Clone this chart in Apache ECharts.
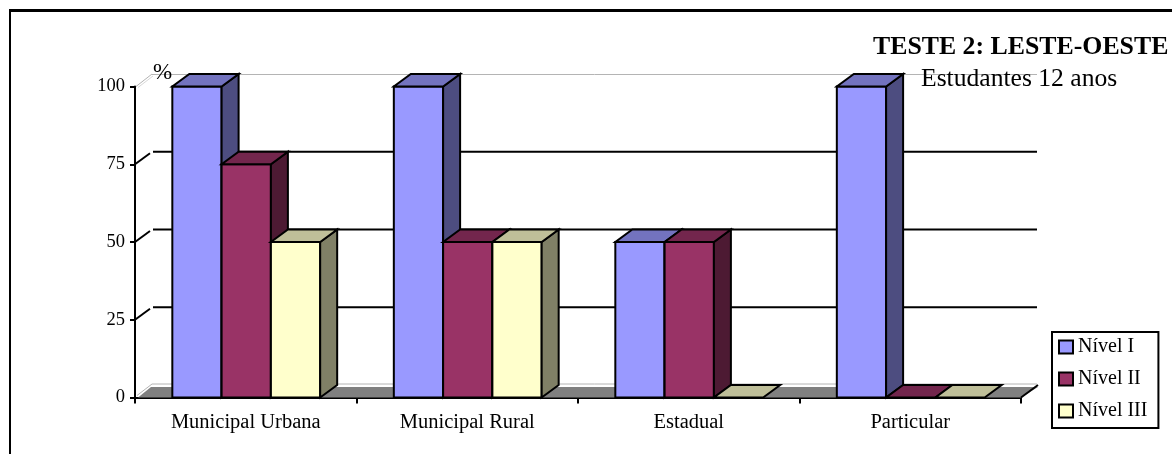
<!DOCTYPE html>
<html>
<head>
<meta charset="utf-8">
<style>html,body{margin:0;padding:0;background:#fff}#chart{width:1172px;height:454px}</style>
<script src="https://cdn.jsdelivr.net/npm/echarts@6/dist/echarts.min.js"></script>
</head>
<body>
<div id="chart"></div>
<script>
const categories = ['Municipal Urbana', 'Municipal Rural', 'Estadual', 'Particular'];
const nivelI = [100, 100, 50, 100];
const nivelII = [75, 50, 50, 0];
const nivelIII = [50, 50, 0, 0];
const yTicks = [0, 25, 50, 75, 100];
const seriesNames = ['Nível I', 'Nível II', 'Nível III'];

const faceColors = [
  { front: '#9999FF', top: '#7373BF', side: '#4D4D80' },
  { front: '#993366', top: '#73264D', side: '#4D1A33' },
  { front: '#FFFFCC', top: '#BFBF99', side: '#808066' }
];

const DEPTH_X = 17;
const DEPTH_Y = -12.5;
const BAR_SHARE = 0.2225;
const FONT = '"Liberation Serif", "Times New Roman", serif';
const WALL_LINE = '#b4b4b4';

const chart = echarts.init(document.getElementById('chart'), null, { renderer: 'canvas' });

function poly(points, fill) {
  return {
    type: 'polygon',
    shape: { points },
    style: { fill, stroke: '#000', lineWidth: 2, lineJoin: 'miter' }
  };
}

function seg(x1, y1, x2, y2, stroke, lineWidth) {
  return { type: 'line', shape: { x1, y1, x2, y2 }, style: { stroke, lineWidth } };
}

// One oblique box: front face, then side and top shifted back by the depth offset.
function renderBox(seriesIndex) {
  return function (params, api) {
    const cat = api.value(0);
    const val = api.value(1);
    const base = api.coord([cat, 0]);
    const top = api.coord([cat, val]);
    const band = api.size([1, 0])[0];
    const w = band * BAR_SHARE;
    const x0 = base[0] + 0.5 + (seriesIndex - 1.5) * w;
    const x1 = x0 + w;
    const yb = base[1];
    const yt = top[1];
    const c = faceColors[seriesIndex];
    const children = [];
    if (val > 0) {
      children.push(poly([[x0, yb], [x1, yb], [x1, yt], [x0, yt]], c.front));
      children.push(poly([[x1, yb], [x1 + DEPTH_X, yb + DEPTH_Y], [x1 + DEPTH_X, yt + DEPTH_Y], [x1, yt]], c.side));
    }
    children.push(poly([[x0, yt], [x1, yt], [x1 + DEPTH_X, yt + DEPTH_Y], [x0 + DEPTH_X, yt + DEPTH_Y]], c.top));
    return { type: 'group', children };
  };
}

// Back wall, side wall and floor, drawn once behind the boxes.
function renderWalls(params, api) {
  const v = api.value(0);
  const y = api.coord([0, v])[1];
  const xl = params.coordSys.x;
  const xr = xl + params.coordSys.width;
  const yBack = y + DEPTH_Y;
  const children = [];
  if (v === 0) {
    children.push({
      type: 'polygon',
      shape: { points: [[xl + 3, y], [xl + DEPTH_X - 1, yBack + 2], [xr + DEPTH_X, yBack + 2], [xr, y]] },
      style: { fill: '#808080', stroke: null }
    });
    children.push(seg(xl + DEPTH_X, yBack - 1, xr + DEPTH_X - 1, yBack - 1, WALL_LINE, 1));
    children.push(seg(xl + 2, y - 2, xl + DEPTH_X, yBack - 1, WALL_LINE, 1));
    children.push(seg(xr, y, xr + DEPTH_X, yBack, '#000', 2));
  } else if (v === 100) {
    children.push(seg(xl + 1, y, xl + DEPTH_X, yBack, WALL_LINE, 1));
    children.push(seg(xl + 3, y + 1, xl + DEPTH_X + 1, yBack + 2, '#d8d8d8', 1));
    children.push(seg(xl + DEPTH_X, yBack + 0.5, xr + DEPTH_X - 1, yBack + 0.5, WALL_LINE, 1));
  } else {
    children.push(seg(xl, y, xl + 15, yBack + 1.5, '#000', 2));
    children.push(seg(xl + DEPTH_X + 1, yBack, xr + DEPTH_X - 1, yBack, '#000', 2));
  }
  return { type: 'group', children };
}

const boxSeries = [nivelI, nivelII, nivelIII].map((values, i) => ({
  name: seriesNames[i],
  type: 'custom',
  coordinateSystem: 'cartesian2d',
  renderItem: renderBox(i),
  encode: { x: 0, y: 1 },
  data: values.map((v, k) => [k, v]),
  itemStyle: { color: faceColors[i].front, borderColor: '#000', borderWidth: 2 },
  clip: false,
  z: 3 + i
}));

chart.setOption({
  animation: false,
  backgroundColor: '#fff',
  textStyle: { fontFamily: FONT },
  grid: { left: 135, top: 86.5, width: 886, height: 311, containLabel: false },
  xAxis: {
    type: 'category',
    data: categories,
    boundaryGap: true,
    axisLine: { onZero: false, lineStyle: { color: '#000', width: 2 } },
    axisTick: { show: true, alignWithLabel: false, length: 6, inside: false, lineStyle: { color: '#000', width: 2 } },
    axisLabel: { color: '#000', fontFamily: FONT, fontSize: 20.5, margin: 15 },
    splitLine: { show: false }
  },
  yAxis: {
    type: 'value',
    min: 0,
    max: 100,
    interval: 25,
    axisLine: { show: true, lineStyle: { color: '#000', width: 2 } },
    axisTick: { show: true, length: 5, lineStyle: { color: '#000', width: 2 } },
    axisLabel: { color: '#000', fontFamily: FONT, fontSize: 18.5, margin: 10 },
    splitLine: { show: false }
  },
  legend: {
    orient: 'vertical',
    left: 1052,
    top: 332,
    padding: [5, 11, 7, 6],
    itemGap: 12,
    itemWidth: 14,
    itemHeight: 13,
    icon: 'rect',
    borderColor: '#000',
    borderWidth: 2,
    backgroundColor: '#fff',
    textStyle: { color: '#000', fontFamily: FONT, fontSize: 20 },
    data: seriesNames
  },
  graphic: [
    { type: 'line', shape: { x1: 9, y1: 10.5, x2: 1172, y2: 10.5 }, style: { stroke: '#000', lineWidth: 3 }, silent: true, z: 20 },
    { type: 'line', shape: { x1: 10, y1: 9, x2: 10, y2: 454 }, style: { stroke: '#000', lineWidth: 2 }, silent: true, z: 20 },
    { type: 'text', left: 873, top: 34, style: { text: 'TESTE 2: LESTE-OESTE', font: 'bold 25.8px ' + FONT, fill: '#000' }, z: 20 },
    { type: 'text', left: 921, top: 66, style: { text: 'Estudantes 12 anos', font: '25.6px ' + FONT, fill: '#000' }, z: 20 },
    { type: 'text', left: 153, top: 61, style: { text: '%', font: '23px ' + FONT, fill: '#000' }, z: 20 }
  ],
  series: [
    {
      type: 'custom',
      coordinateSystem: 'cartesian2d',
      renderItem: renderWalls,
      encode: { y: 0 },
      data: yTicks.map(v => [v]),
      clip: false,
      silent: true,
      z: 1
    }
  ].concat(boxSeries)
});
</script>
</body>
</html>
